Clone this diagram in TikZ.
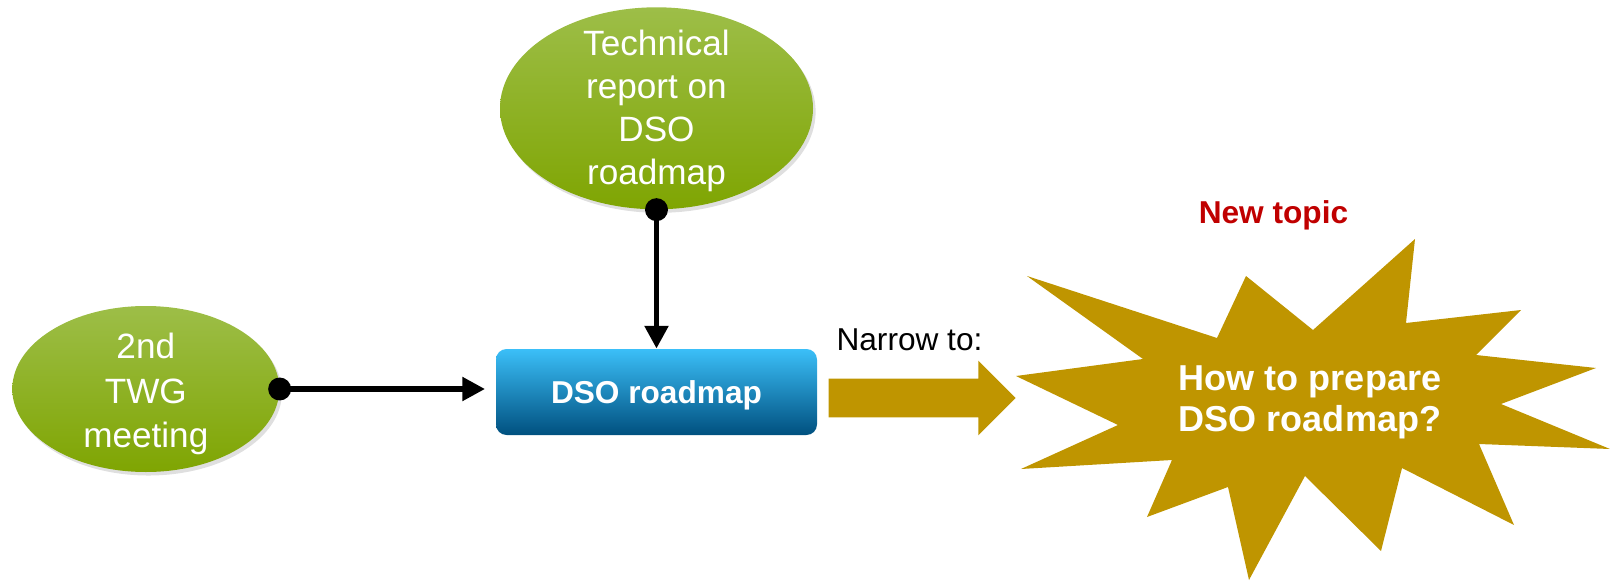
\documentclass[tikz,border=0pt]{standalone}
\usepackage{fontspec}
\setmainfont{Liberation Sans}
\usepackage{xcolor}
\definecolor{ellgreen}{HTML}{9DBE48}
\definecolor{ellgreendk}{HTML}{7FA502}
\definecolor{boxblue}{HTML}{3BBFF8}
\definecolor{boxbluedk}{HTML}{00507F}
\definecolor{topicgold}{HTML}{BF9500}
\definecolor{topicred}{HTML}{C00000}
\usetikzlibrary{shapes, arrows.meta, positioning, shadows}

\begin{document}
\begin{tikzpicture}[
    source/.style={ellipse, inner sep=0pt, top color=ellgreen, bottom color=ellgreendk,
      drop shadow={opacity=0.25, shadow xshift=1.5pt, shadow yshift=-2pt}},
    sourcetext/.style={text=white, align=center},
    link/.style={line width=3.4pt, {Circle[length=13pt]}-{Triangle[length=13pt, width=13pt]}, shorten <=-6.5pt}
  ]
  \useasboundingbox (0,0) rectangle (32.2,-11.66);

  % Centre box
  \node[rounded corners=6pt, top color=boxblue, bottom color=boxbluedk, text=white, font=\fontsize{18pt}{21pt}\selectfont\bfseries,
    minimum width=6.42cm, minimum height=1.72cm, text depth=0pt] (roadmap) at (13.13,-7.84) {DSO roadmap};

  % Inputs
  \node[source, minimum width=6.26cm, minimum height=4.04cm, above=2.78cm of roadmap] (report) {};
  \node[sourcetext, font=\fontsize{20pt}{24.5pt}\selectfont, yshift=-0.06cm] (reporttext) at (report) {Technical\\report on\\DSO\\roadmap};
  \node[source, minimum width=5.34cm, minimum height=3.32cm, left=4.32cm of roadmap, yshift=0.06cm] (twg) {};
  \node[sourcetext, font=\fontsize{20pt}{25.5pt}\selectfont, yshift=-0.1cm] (twgtext) at (twg) {2nd\\TWG\\meeting};

  \draw[link, shorten >=6pt] (twg) -- (roadmap.west |- twg);
  \draw[link] (report) -- (roadmap);

  % Narrow arrow
  \node[single arrow, fill=topicgold, minimum height=3.74cm, inner xsep=0pt, inner ysep=0.38cm,
    single arrow head extend=0.36cm, right=0.22cm of roadmap, yshift=-0.12cm] (narrow) {};
  \node[anchor=base, font=\fontsize{18pt}{21pt}\selectfont] (narrowlbl) at (18.19,-7.01) {Narrow to:};

  % New topic star
  \fill[topicgold] (20.32,-7.52) -- (22.86,-7.18) -- (20.54,-5.52) -- (24.34,-6.76) -- (24.92,-5.52)
    -- (26.26,-6.60) -- (28.30,-4.78) -- (28.12,-6.46) -- (30.42,-6.20) -- (29.52,-7.10)
    -- (31.92,-7.36) -- (30.02,-8.08) -- (32.20,-8.98) -- (29.58,-8.88) -- (30.28,-10.50)
    -- (28.04,-9.36) -- (27.62,-11.02) -- (26.10,-9.52) -- (24.98,-11.60) -- (24.56,-9.74)
    -- (22.94,-10.34) -- (23.44,-9.20) -- (20.42,-9.38) -- (22.36,-8.50) -- cycle;
  \node[text=white, align=center, font=\fontsize{20.5pt}{23.3pt}\selectfont\bfseries] (question) at (26.2,-8.04) {How to prepare\\DSO roadmap?};
  \node[anchor=base, text=topicred, font=\fontsize{18pt}{21pt}\selectfont\bfseries] (newlbl) at (25.47,-4.47) {New topic};
\end{tikzpicture}
\end{document}
